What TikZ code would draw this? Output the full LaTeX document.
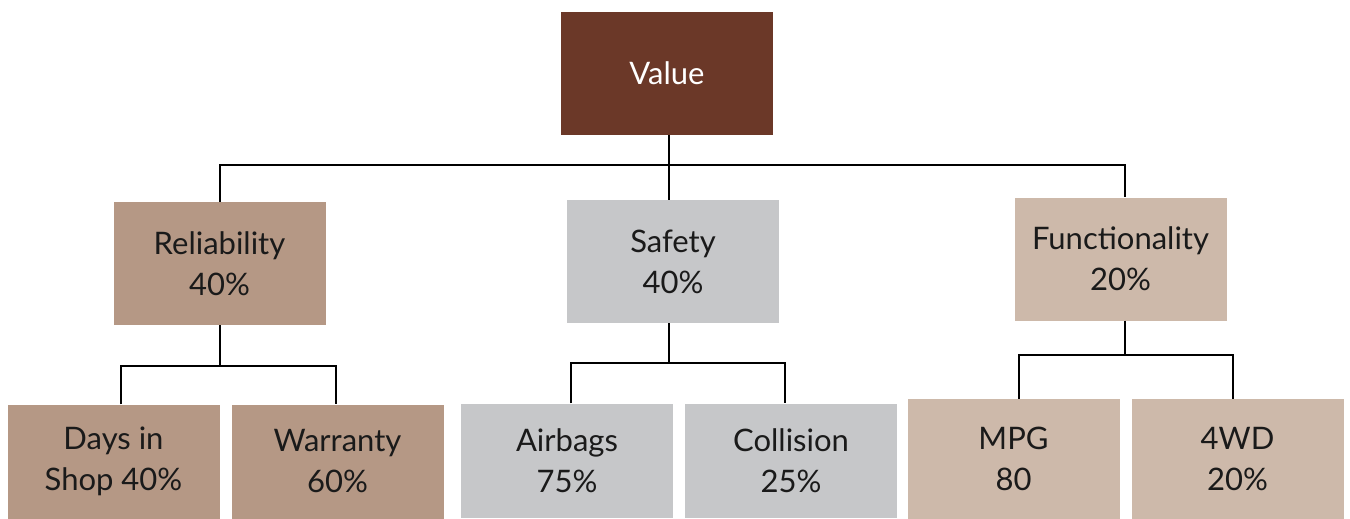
\documentclass[tikz,border=0pt]{standalone}
\usepackage{fontspec}
\setmainfont{Lato}
\usepackage{xcolor}
\definecolor{valbrown}{HTML}{6B3828}
\definecolor{relbrown}{HTML}{B59885}
\definecolor{safgray}{HTML}{C6C7C9}
\definecolor{funtan}{HTML}{CDB9AA}
\definecolor{textdark}{HTML}{1A1A1A}
\usepackage{tikz}
\usetikzlibrary{positioning}

\begin{document}
\begin{tikzpicture}[
  x=1pt, y=-1pt,
  box/.style={minimum width=212pt, minimum height=123pt, inner sep=0pt,
              align=center, text=textdark,
              font=\fontsize{31}{41}\selectfont},
  leaf/.style={box, minimum height=114pt},
  link/.style={line width=2.6pt, black}
]
  \useasboundingbox (0,0) rectangle (1350,519);

  % top level
  \node[box, fill=valbrown, text=white] (val) at (667,73.5) {Value};

  % criteria
  \node[box, fill=relbrown] (rel) at (219.5,263.5) {Reliability\\40\%};
  \node[box, fill=safgray] (saf) at (673,261.5) {Safety\\40\%};
  \node[box, fill=funtan] (fun) at (1120.5,259) {Functionality\\20\%};

  % sub-criteria
  \node[leaf, fill=relbrown] (days) at (113.5,461.5) {Days in\\Shop 40\%};
  \node[leaf, fill=relbrown] (war) at (337.5,461.5) {Warranty\\60\%};
  \node[leaf, fill=safgray] (air) at (567,460.5) {Airbags\\75\%};
  \node[leaf, fill=safgray] (col) at (791,460.5) {Collision\\25\%};
  \node[leaf, fill=funtan, minimum height=120pt] (mpg) at (1013.5,459) {MPG\\80};
  \node[leaf, fill=funtan, minimum height=120pt] (wd) at (1237.5,459) {4WD\\20\%};

  % bus coordinates
  \coordinate (vbus) at (669,165);
  \coordinate (rbus) at (220,366);
  \coordinate (sbus) at (669,363);
  \coordinate (fbus) at (1125,355);

  % value to criteria
  \draw[link] (vbus |- val.south) -- (vbus |- saf.north);
  \draw[link] (rbus |- rel.north) |- (vbus) -| (fbus |- fun.north);
  % criteria to sub-criteria
  \draw[link] (rbus |- rel.south) -- (rbus);
  \draw[link] (121,0 |- days.north) |- (rbus) -| (336,0 |- war.north);
  \draw[link] (sbus |- saf.south) -- (sbus);
  \draw[link] (571,0 |- air.north) |- (sbus) -| (785,0 |- col.north);
  \draw[link] (fbus |- fun.south) -- (fbus);
  \draw[link] (1019,0 |- mpg.north) |- (fbus) -| (1233,0 |- wd.north);
\end{tikzpicture}
\end{document}
